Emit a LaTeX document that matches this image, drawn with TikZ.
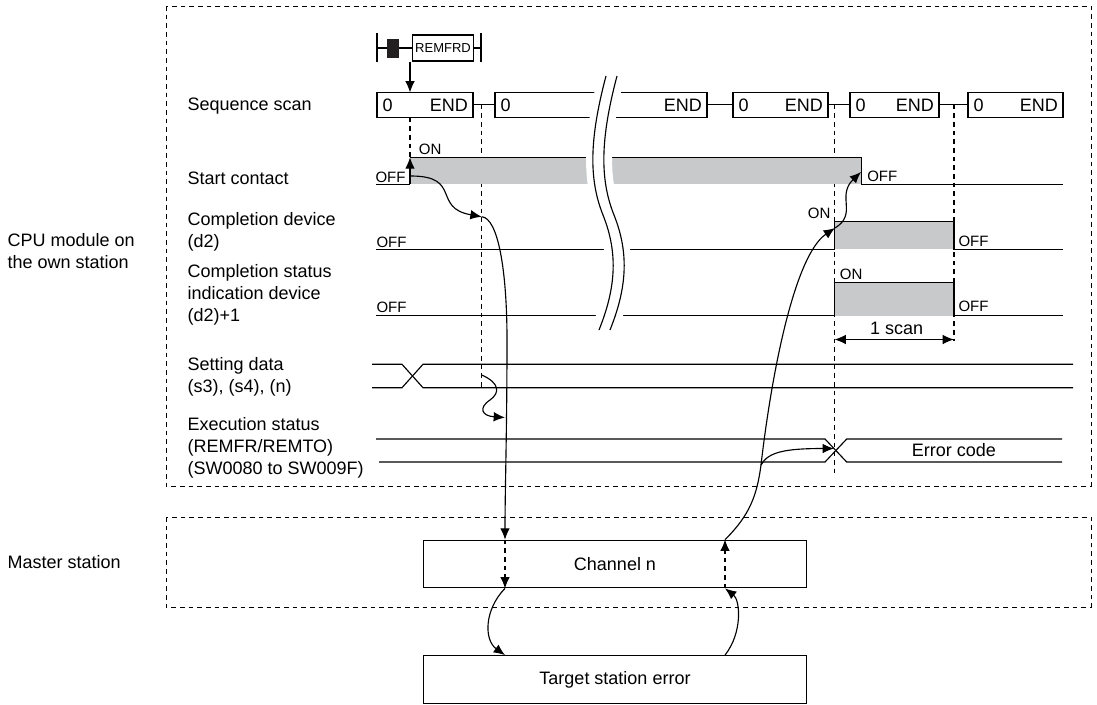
\documentclass[tikz,border=0pt]{standalone}
\usepackage{fontspec}
\setmainfont{Liberation Sans}
\usetikzlibrary{calc, arrows.meta}

\tikzset{
    lbl/.style={font=\fontsize{13.5}{16.5}\selectfont, inner sep=0pt, align=left, anchor=west},
    sig/.style={font=\fontsize{11.25}{13}\selectfont, inner sep=0pt},
    frame/.style={dash pattern=on 3.6pt off 2.9pt, line width=0.6pt},
    guide/.style={dash pattern=on 3.6pt off 2.9pt, line width=0.8pt},
    arr/.style={-{Latex[length=8.5pt,width=7.2pt]}},
    stationBox/.style={draw, inner sep=0pt, minimum width=287.5pt, minimum height=35.7pt,
        font=\fontsize{13.5}{16.5}\selectfont}
}

\begin{document}
\begin{tikzpicture}[x=0.75pt, y=-0.75pt, line width=0.85pt]
    % Define colours
    \definecolor{borderColour}{HTML}{231F20}
    \definecolor{fillColour}{HTML}{C8C9CB}

    \useasboundingbox (0,0) rectangle (1097,704);

    % Draw station frames
    \draw[frame] (166,6) rectangle (1091,486);
    \draw[frame] (166,517) rectangle (1091,607);

    % Station labels
    \node[lbl] (cpuLabel) at (7,251) {CPU module on\\the own station};
    \node[lbl] (masterLabel) at (7,562) {Master station};

    % Signal labels
    \node[lbl] (scanLabel) at (187,106) {Sequence scan};
    \node[lbl] (startLabel) at (187,178) {Start contact};
    \node[lbl] (doneLabel) at (187,232) {Completion device\\(d2)};
    \node[lbl] (statLabel) at (187,294.5) {Completion status\\indication device\\(d2)+1};
    \node[lbl] (dataLabel) at (187,377) {Setting data\\(s3), (s4), (n)};
    \node[lbl] (execLabel) at (187,448) {Execution status\\(REMFR/REMTO)\\(SW0080 to SW009F)};

    % Draw instruction symbol
    \draw (377,33) -- (377,62);
    \draw (377,48) -- (387,48);
    \fill[borderColour] (387,38.5) rectangle (398.5,57.5);
    \node[draw, inner sep=0pt, minimum width=45.4pt, minimum height=19.5pt,
        font=\fontsize{9.75}{11}\selectfont] (instr) at (443,48) {REMFRD};
    \draw (398.5,48) -- (instr.west);
    \draw (instr.east) -- (481,48);
    \draw (481,33) -- (481,62);

    % Draw sequence scans
    \foreach \a/\b [count=\i] in {377/473, 495/707, 733/828, 850/939, 968/1063} {
        \draw (\a,92.5) rectangle (\b,117.5);
        \node[lbl] (zero\i) at (\a+5,105) {0};
        \node[lbl, anchor=east] (end\i) at (\b-4.5,105) {END};
    }
    \foreach \a/\b in {473/495, 707/733, 828/850, 939/968}
        \draw (\a,104.5) -- (\b,104.5);
    \draw[arr] (instr.south -| 410,0) -- (410,92.5);

    % Draw guide lines
    \draw[guide] (410,117.5) -- (410,157.3);
    \draw[guide] (481.7,104.5) -- (481.7,387);
    \draw[guide] (834.5,104.5) -- (834.5,474);
    \draw[guide] (954,104.5) -- (954,341);

    % Start contact
    \fill[fillColour] (410,157.3) rectangle (861.7,184.3);
    \draw (376,184.3) -- (410,184.3);
    \draw[arr] (410,184.3) -- (410,157.3);
    \draw (410,157.3) -- (861.7,157.3) -- (861.7,184.3) -- (1063,184.3);
    \node[sig, anchor=west] (startOff) at (375,177) {OFF};
    \node[sig, anchor=west] (startOn) at (418.3,149) {ON};
    \node[sig, anchor=west] (startOff2) at (866.7,176) {OFF};

    % Completion device
    \fill[fillColour] (834.5,221.7) rectangle (954,249.3);
    \draw (376,249.3) -- (834.5,249.3) -- (834.5,221.7) -- (954,221.7) -- (954,249.3) -- (1063,249.3);
    \node[sig, anchor=west] (doneOff) at (376,242.5) {OFF};
    \node[sig, anchor=east] (doneOn) at (831,213.3) {ON};
    \node[sig, anchor=west] (doneOff2) at (958,241) {OFF};

    % Completion status
    \fill[fillColour] (834.5,282.7) rectangle (954,315.7);
    \draw (376,315.7) -- (834.5,315.7) -- (834.5,282.7) -- (954,282.7) -- (954,315.7) -- (1063,315.7);
    \node[sig, anchor=west] (statOff) at (376,307) {OFF};
    \node[sig, anchor=west] (statOn) at (839.3,274) {ON};
    \node[sig, anchor=west] (statOff2) at (958,306.7) {OFF};

    % One scan
    \draw[{Latex[length=8.5pt,width=7.2pt]}-{Latex[length=8.5pt,width=7.2pt]}] (834.5,339.5) -- (954,339.5);
    \node[lbl, anchor=center] (oneScan) at (896.7,328.3) {1 scan};

    % Setting data
    \draw (372,364.3) -- (402,364.3) -- (423,387.7) -- (1073,387.7);
    \draw (372,387.7) -- (402,387.7) -- (423,364.3) -- (1073,364.3);

    % Execution status
    \draw (376,439) -- (825,439) -- (846.7,462) -- (1062,462);
    \draw (379,462) -- (825,462) -- (846.7,439) -- (1062,439);
    \node[lbl, anchor=center] (errCode) at (954,450) {Error code};

    % Draw break
    \draw[white, line width=19.5pt] (611.5,76) .. controls (595.5,140) and (595.5,180) .. (608.5,215)
        .. controls (623.5,255) and (619.5,290) .. (604.5,330);
    \draw (606,76) .. controls (589,140) and (589,180) .. (603,215)
        .. controls (619,255) and (615,290) .. (599,330);
    \draw (617,76) .. controls (600,140) and (600,180) .. (614,215)
        .. controls (630,255) and (626,290) .. (610,330);

    % Stations
    \node[stationBox] (chan) at (615,564) {Channel n};
    \node[stationBox] (target) at (615,679.5) {Target station error};

    % Named points
    \coordinate (reqX) at (505,0);
    \coordinate (ansX) at (725,0);
    \coordinate (reqOut) at (411,176);
    \coordinate (reqIn) at (481.7,216.7);
    \coordinate (dataWait) at (481.7,375);
    \coordinate (dataIn) at (505,417.5);
    \coordinate (split) at (761,465);
    \coordinate (doneRise) at (835,228);
    \coordinate (startFall) at (861,172);
    \coordinate (errCross) at (834,448.5);

    % Request flow
    \draw[arr] (reqOut) .. controls (462,176) and (432,208) .. (reqIn);
    \draw[arr] (reqIn) .. controls (498,218) and (507,270) .. (507,340)
        .. controls (507,430) and (505,490) .. (chan.north -| reqX);
    \draw[arr] (dataWait) .. controls (500,383) and (500,393) .. (490,400)
        .. controls (478,408) and (482,416) .. (dataIn);
    \draw[guide, arr] (chan.north -| reqX) -- (chan.south -| reqX);
    \draw[arr] (chan.south -| reqX) .. controls (484,610) and (484,640) .. (target.north -| reqX);

    % Answer flow
    \draw[arr] (target.north -| ansX) .. controls (743,632) and (740,600) .. (chan.south -| ansX);
    \draw[guide, arr] (chan.south -| ansX) -- (chan.north -| ansX);
    \draw (chan.north -| ansX) .. controls (750,515) and (757,495) .. (split);
    \draw[arr] (split) .. controls (772,370) and (795,255) .. (doneRise);
    \draw[arr] (split) .. controls (768,452) and (785,448.5) .. (errCross);
    \draw[arr] (doneRise) .. controls (858,214) and (836,196) .. (startFall);

\end{tikzpicture}
\end{document}
